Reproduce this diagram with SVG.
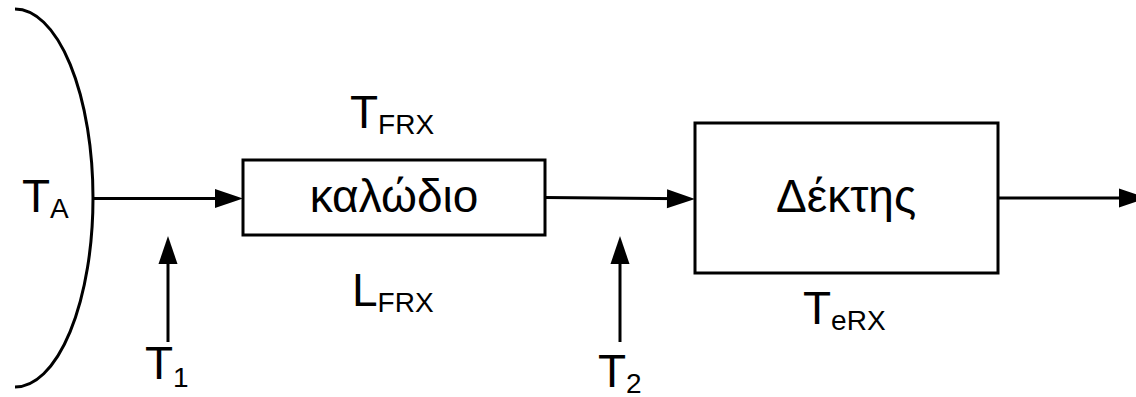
<svg xmlns="http://www.w3.org/2000/svg" width="1136" height="397" viewBox="0 0 1136 397">
<style>
.ln{stroke:#000;stroke-width:3;fill:none}
.bx{stroke:#000;stroke-width:3;fill:#fff}
.t{font-family:"Liberation Sans",Arial,sans-serif;font-size:46px;fill:#000}
.s{font-size:28px}
</style>
<defs>
<marker id="ah" markerUnits="userSpaceOnUse" markerWidth="28" markerHeight="20" refX="18" refY="10" orient="auto" overflow="visible">
<path d="M0,0.5 L28,10 L0,19.5 z" fill="#000"/>
</marker>
</defs>
<g id="antenna">
<path class="ln" d="M15,9 A78,189 0 0 1 15,387"/>
<text class="t" x="22" y="212">T<tspan class="s" dy="6">A</tspan></text>
</g>
<g id="cable">
<rect class="bx" x="243" y="160" width="302" height="75"/>
<text class="t" x="394" y="212" text-anchor="middle">καλώδιο</text>
<text class="t" x="350" y="128">T<tspan class="s" dy="6">FRX</tspan></text>
<text class="t" x="352" y="306">L<tspan class="s" dy="6">FRX</tspan></text>
</g>
<g id="receiver">
<rect class="bx" x="695" y="123" width="303" height="150"/>
<text class="t" x="846" y="212" text-anchor="middle">Δέκτης</text>
<text class="t" x="803" y="324">T<tspan class="s" dy="6">eRX</tspan></text>
</g>
<g id="t1">
<text class="t" x="145" y="379">T<tspan class="s" dy="8">1</tspan></text>
</g>
<g id="t2">
<text class="t" x="598" y="387">T<tspan class="s" dy="6">2</tspan></text>
</g>
<g id="connectors">
<line class="ln" x1="93" y1="198.5" x2="233" y2="198.5" marker-end="url(#ah)"/>
<line class="ln" x1="545" y1="197.5" x2="685" y2="198.8" marker-end="url(#ah)"/>
<line class="ln" x1="998" y1="198" x2="1137" y2="198" marker-end="url(#ah)"/>
<line class="ln" x1="168" y1="342" x2="168" y2="246" marker-end="url(#ah)"/>
<line class="ln" x1="620" y1="342" x2="620" y2="246" marker-end="url(#ah)"/>
</g>
</svg>
